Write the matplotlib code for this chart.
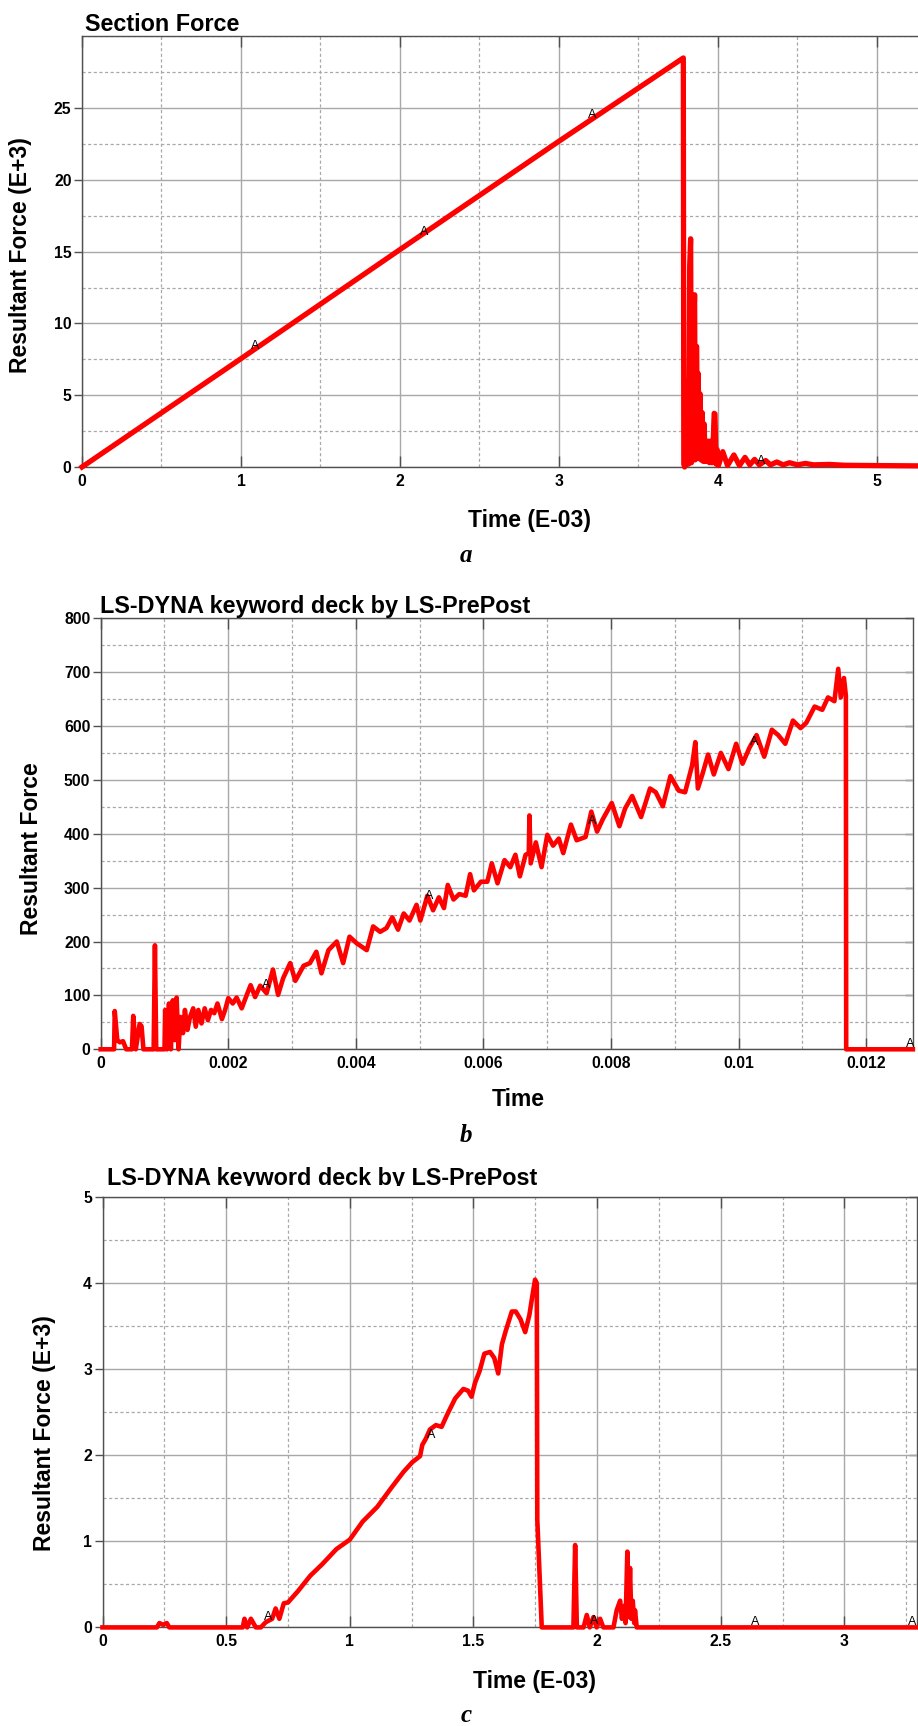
import matplotlib
matplotlib.use("Agg")
import matplotlib.pyplot as plt
from matplotlib.ticker import FixedLocator, MultipleLocator
from matplotlib.patches import Rectangle

plt.rcParams['font.family'] = ['Liberation Sans', 'DejaVu Sans']

# ---------------- data: panel a ----------------
a_time = [0, 1.0, 2.0, 3.0, 3.782, 3.785, 3.79, 3.80, 3.81, 3.815,
          3.822, 3.828, 3.833, 3.840, 3.845, 3.850, 3.853, 3.857, 3.862, 3.866,
          3.870, 3.876, 3.880, 3.887, 3.893, 3.900, 3.906, 3.913, 3.919, 3.925,
          3.932, 3.94, 3.946, 3.955, 3.962, 3.970, 3.976, 3.981, 3.988, 3.995,
          4.003, 4.03, 4.06, 4.10, 4.135, 4.17, 4.20, 4.23, 4.26, 4.30,
          4.33, 4.37, 4.41, 4.45, 4.50, 4.55, 4.6, 4.7, 4.8, 5.0,
          5.26]
a_force = [0, 7.55, 15.15, 22.7, 28.5, 0.2, 0.0, 0.3, 6.0, 0.2,
           14.0, 15.9, 0.3, 8.0, 0.5, 11.0, 12.0, 0.5, 8.4, 8.4,
           0.6, 6.5, 0.6, 5.1, 0.5, 3.8, 0.4, 3.0, 0.4, 1.8,
           0.4, 1.8, 0.3, 1.8, 0.3, 1.8, 3.74, 3.7, 0.2, 1.2,
           0.1, 1.07, 0.1, 0.84, 0.1, 0.67, 0.15, 0.53, 0.15, 0.45,
           0.15, 0.35, 0.15, 0.3, 0.15, 0.25, 0.15, 0.18, 0.12, 0.1,
           0.08]
a_mark_x = [1.09, 2.15, 3.21, 4.27]
a_mark_y = [8.4, 16.4, 24.5, 0.44]
a_xticks = [0, 1, 2, 3, 4, 5]
a_xlabels = ['0', '1', '2', '3', '4', '5']
a_yticks = [0, 5, 10, 15, 20, 25]
a_ylabels = ['0', '5', '10', '15', '20', '25']

# ---------------- data: panel b ----------------
b_time = [0, 0.00021, 0.00022, 0.00026, 0.0003, 0.00035, 0.0004, 0.00049, 0.00051, 0.00055,
          0.00061, 0.00064, 0.00067, 0.00083, 0.00085, 0.00087, 0.00100, 0.00101, 0.00104, 0.00107,
          0.00110, 0.00113, 0.00116, 0.00119, 0.00122, 0.00125, 0.00129, 0.00132, 0.00136, 0.00140,
          0.00145, 0.00149, 0.00153, 0.00158, 0.00163, 0.00168, 0.00173, 0.00178, 0.00183, 0.00190,
          0.00195, 0.00200, 0.00207, 0.00213, 0.00221, 0.00229, 0.00235, 0.00242, 0.00250, 0.00260,
          0.00270, 0.00278, 0.00286, 0.00297, 0.00305, 0.00318, 0.00328, 0.00338, 0.00346, 0.00357,
          0.00370, 0.00380, 0.00390, 0.00401, 0.00417, 0.00427, 0.00438, 0.00448, 0.00457, 0.00466,
          0.00475, 0.00484, 0.00495, 0.00501, 0.00512, 0.00521, 0.00530, 0.00538, 0.00544, 0.00553,
          0.00562, 0.00572, 0.00579, 0.00585, 0.00596, 0.00606, 0.00613, 0.00622, 0.00633, 0.00642,
          0.00650, 0.00657, 0.00666, 0.00671, 0.00672, 0.00674, 0.00682, 0.00691, 0.00700, 0.00709,
          0.00718, 0.00725, 0.00737, 0.00746, 0.00760, 0.00769, 0.00778, 0.00787, 0.00801, 0.00813,
          0.00822, 0.00833, 0.00847, 0.00861, 0.00870, 0.00881, 0.00893, 0.00906, 0.00916, 0.00927,
          0.00932, 0.00936, 0.00943, 0.00952, 0.00961, 0.00972, 0.00984, 0.00996, 0.01006, 0.01017,
          0.01028, 0.01040, 0.01052, 0.01062, 0.01073, 0.01085, 0.01097, 0.01106, 0.01119, 0.01131,
          0.01140, 0.01150, 0.01156, 0.01160, 0.01165, 0.01168, 0.011685, 0.01273]
b_force = [0, 0, 71, 17, 13, 15, 0, 0, 62, 0,
           47, 43, 0, 0, 193, 0, 0, 73, 0, 85,
           0, 91, 17, 96, 0, 60, 30, 73, 36, 60,
           76, 42, 73, 48, 76, 54, 73, 67, 85, 56,
           73, 95, 85, 96, 76, 101, 119, 97, 118, 104,
           148, 101, 132, 160, 127, 155, 160, 181, 141, 184,
           200, 160, 209, 197, 184, 228, 218, 225, 245, 222,
           252, 239, 268, 239, 285, 258, 282, 262, 305, 278,
           288, 285, 325, 295, 311, 311, 345, 308, 351, 338,
           361, 321, 361, 364, 434, 345, 384, 338, 398, 378,
           391, 364, 417, 388, 394, 441, 404, 427, 457, 414,
           447, 470, 431, 484, 477, 451, 507, 480, 477, 527,
           570, 484, 510, 547, 510, 550, 520, 567, 530, 560,
           583, 543, 593, 583, 567, 610, 596, 606, 636, 630,
           653, 646, 706, 653, 689, 656, 0, 0]
b_mark_x = [0.0026, 0.00515, 0.0077, 0.01024, 0.01268]
b_mark_y = [119, 285, 424, 570, 10]
b_xticks = [0, 0.002, 0.004, 0.006, 0.008, 0.01, 0.012]
b_xlabels = ['0', '0.002', '0.004', '0.006', '0.008', '0.01', '0.012']
b_yticks = [0, 100, 200, 300, 400, 500, 600, 700, 800]
b_ylabels = ['0', '100', '200', '300', '400', '500', '600', '700', '800']

# ---------------- data: panel c ----------------
c_time = [0, 0.22, 0.23, 0.245, 0.26, 0.27, 0.567, 0.574, 0.585, 0.6,
          0.62, 0.64, 0.66, 0.686, 0.70, 0.715, 0.733, 0.75, 0.79, 0.84,
          0.887, 0.946, 1.0, 1.052, 1.111, 1.17, 1.218, 1.253, 1.284, 1.293,
          1.307, 1.324, 1.348, 1.371, 1.395, 1.426, 1.459, 1.478, 1.492, 1.506,
          1.525, 1.544, 1.567, 1.584, 1.6, 1.615, 1.631, 1.655, 1.671, 1.69,
          1.709, 1.726, 1.738, 1.749, 1.756, 1.758, 1.776, 1.904, 1.911, 1.918,
          1.945, 1.958, 1.97, 1.985, 1.998, 2.012, 2.025, 2.066, 2.079, 2.093,
          2.1, 2.109, 2.115, 2.122, 2.127, 2.133, 2.138, 2.144, 2.15, 2.153,
          2.16, 3.292]
c_force = [0, 0, 0.05, 0.03, 0.05, 0, 0, 0.1, 0, 0.1,
           0, 0, 0.06, 0.1, 0.22, 0.1, 0.28, 0.29, 0.42, 0.6,
           0.73, 0.91, 1.02, 1.23, 1.4, 1.63, 1.81, 1.92, 1.99, 2.12,
           2.19, 2.30, 2.35, 2.33, 2.48, 2.66, 2.77, 2.75, 2.68, 2.84,
           2.98, 3.18, 3.2, 3.13, 2.95, 3.29, 3.45, 3.67, 3.67, 3.58,
           3.43, 3.63, 3.85, 4.04, 4.0, 1.25, 0, 0, 0.957, 0,
           0, 0.144, 0, 0.12, 0, 0.1, 0, 0, 0.2, 0.31,
           0.1, 0.25, 0.05, 0.88, 0.12, 0.69, 0.1, 0.31, 0.05, 0.2,
           0, 0]
c_mark_x = [0.669, 1.329, 1.986, 2.64, 3.275]
c_mark_y = [0.126, 2.24, 0.08, 0.06, 0.06]
c_xticks = [0, 0.5, 1, 1.5, 2, 2.5, 3]
c_xlabels = ['0', '0.5', '1', '1.5', '2', '2.5', '3']
c_yticks = [0, 1, 2, 3, 4, 5]
c_ylabels = ['0', '1', '2', '3', '4', '5']

W, H = 918, 1726
fig = plt.figure(figsize=(W / 100, H / 100), dpi=100)
fig.patch.set_facecolor('white')


def box(left, right, top, bottom):
    return [left / W, 1 - bottom / H, (right - left) / W, (bottom - top) / H]


RED = '#ff0000'
GRID = '#a8a8a8'
SPINE = '#505050'


def style(ax, xlim, ylim, xt, xl, yt, yl, xminor, yminor, right_spine=True):
    ax.set_xlim(*xlim)
    ax.set_ylim(*ylim)
    ax.xaxis.set_major_locator(FixedLocator(xt))
    ax.set_xticklabels(xl, fontweight='bold')
    ax.yaxis.set_major_locator(FixedLocator(yt))
    ax.set_yticklabels(yl, fontweight='bold')
    ax.xaxis.set_minor_locator(MultipleLocator(xminor))
    ax.yaxis.set_minor_locator(MultipleLocator(yminor))
    ax.grid(which='major', color=GRID, lw=1.0, ls='-')
    ax.grid(which='minor', color=GRID, lw=0.9, ls=(0, (2.5, 2)))
    ax.set_axisbelow(True)
    ax.tick_params(axis='y', which='major', direction='out', length=6, width=1,
                   color=SPINE, pad=1.5, labelsize=11.3, right=False)
    ax.tick_params(axis='x', which='major', direction='in', length=8, width=1,
                   color=SPINE, pad=5, labelsize=11.3, top=True)
    ax.tick_params(which='minor', length=0)
    for s in ax.spines.values():
        s.set_color(SPINE)
        s.set_linewidth(1.0)
    ax.spines['right'].set_visible(False)
    if right_spine:
        sec = ax.secondary_yaxis('right')
        sec.yaxis.set_major_locator(FixedLocator(yt))
        sec.tick_params(direction='in', length=6, width=1, color=SPINE, labelright=False)
        sec.spines['right'].set_color(SPINE)
        sec.spines['right'].set_linewidth(1.0)


def marks(ax, xs, ys):
    for x, y in zip(xs, ys):
        ax.text(x, y, 'A', ha='center', va='center', fontsize=9, color='black',
                clip_on=False, zorder=5)


# ---------------- panel a ----------------
axA = fig.add_axes(box(82, 918, 35.7, 467))
axA.plot(a_time, a_force, color=RED, lw=3.8, solid_joinstyle='round', clip_on=False, zorder=3)
style(axA, (0, 5.258), (0, 30.05), a_xticks, a_xlabels, a_yticks, a_ylabels, 0.5, 2.5,
      right_spine=False)
marks(axA, a_mark_x, a_mark_y)
fig.text(85 / W, 1 - 31.4 / H, 'Section Force', ha='left', va='baseline',
         fontsize=16.8, fontweight='bold')
fig.text(529 / W, 1 - 526.8 / H, 'Time (E-03)', ha='center', va='baseline',
         fontsize=16.5, fontweight='bold')
fig.text(20.5 / W, 1 - 255 / H, 'Resultant Force (E+3)', ha='center', va='center',
         rotation=90, fontsize=16.5, fontweight='bold')
fig.text(466 / W, 1 - 556 / H, 'a', ha='center', va='center', fontsize=18,
         fontweight='bold', fontstyle='italic', family='Liberation Serif')

# ---------------- panel b ----------------
axB = fig.add_axes(box(100.7, 913, 618.2, 1049.3))
axB.plot(b_time, b_force, color=RED, lw=3.3, solid_joinstyle='round', clip_on=False, zorder=3)
style(axB, (0, 0.012732), (0, 800), b_xticks, b_xlabels, b_yticks, b_ylabels, 0.001, 50)
marks(axB, b_mark_x, b_mark_y)
fig.text(99.5 / W, 1 - 613 / H, 'LS-DYNA keyword deck by LS-PrePost', ha='left',
         va='baseline', fontsize=16.8, fontweight='bold')
fig.text(518 / W, 1 - 1106 / H, 'Time', ha='center', va='baseline',
         fontsize=16.5, fontweight='bold')
fig.text(32 / W, 1 - 849 / H, 'Resultant Force', ha='center', va='center',
         rotation=90, fontsize=16.5, fontweight='bold')
fig.text(466 / W, 1 - 1135.5 / H, 'b', ha='center', va='center', fontsize=18,
         fontweight='bold', fontstyle='italic', family='Liberation Serif')

# ---------------- panel c ----------------
axC = fig.add_axes(box(102.5, 916.7, 1197, 1627.4))
axC.plot(c_time, c_force, color=RED, lw=3.3, solid_joinstyle='round', clip_on=False, zorder=3)
style(axC, (0, 3.292), (0, 5.0), c_xticks, c_xlabels, c_yticks, c_ylabels, 0.25, 0.5)
marks(axC, c_mark_x, c_mark_y)
fig.text(107 / W, 1 - 1185 / H, 'LS-DYNA keyword deck by LS-PrePost', ha='left',
         va='baseline', fontsize=16.8, fontweight='bold', zorder=1)
fig.text(534.5 / W, 1 - 1688 / H, 'Time (E-03)', ha='center', va='baseline',
         fontsize=16.5, fontweight='bold')
fig.text(45 / W, 1 - 1433 / H, 'Resultant Force (E+3)', ha='center', va='center',
         rotation=90, fontsize=16.5, fontweight='bold')
fig.text(466 / W, 1 - 1715 / H, 'c', ha='center', va='center', fontsize=18,
         fontweight='bold', fontstyle='italic', family='Liberation Serif')

# white band that clips the bottom of the panel-c title and top of the "5" label
fig.patches.append(Rectangle((90 / W, 1 - 1193.5 / H), 470 / W, 8 / H,
                             transform=fig.transFigure, facecolor='white',
                             edgecolor='none', zorder=10))

fig.savefig('out.png', dpi=100, facecolor='white')
